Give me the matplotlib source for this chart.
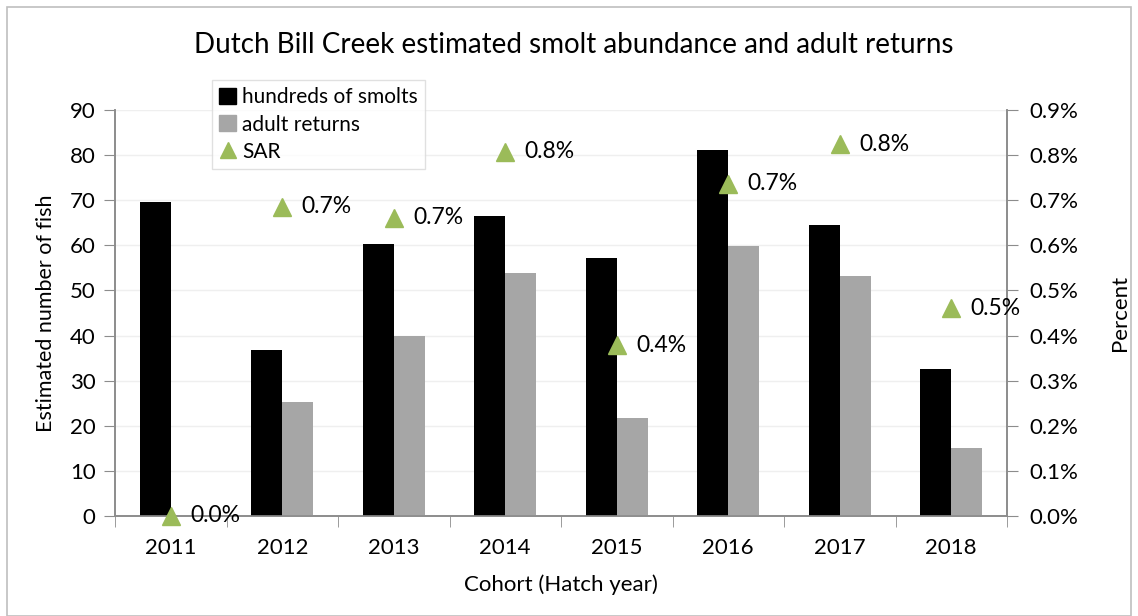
import matplotlib
matplotlib.use("Agg")
import matplotlib.pyplot as plt
import numpy as np
from matplotlib.lines import Line2D
from matplotlib.patches import Patch, Rectangle
from matplotlib.ticker import FuncFormatter, MultipleLocator

plt.rcParams['font.family'] = ['Lato', 'DejaVu Sans']

years = ["2011", "2012", "2013", "2014", "2015", "2016", "2017", "2018"]
smolts_hundreds = [69.7, 36.8, 60.3, 66.5, 57.3, 81.1, 64.5, 32.5]
adult_returns = [0.0, 25.3, 40.0, 53.9, 21.7, 59.9, 53.2, 15.0]
sar_percent = [0.0, 0.685, 0.661, 0.808, 0.378, 0.736, 0.824, 0.46]

fig = plt.figure(figsize=(11.38, 6.16), dpi=100)
ax = fig.add_axes([115/1138, 1-516/616, (1007-115)/1138, (516-110)/616])
ax2 = ax.twinx()

x = np.arange(len(years))
w = 0.28
ax.bar(x - w/2, smolts_hundreds, w, color='black', zorder=3)
ax.bar(x + w/2, adult_returns, w, color='#a6a6a6', zorder=3)

ax.set_xlim(-0.5, len(years) - 0.5)
ax.set_ylim(0, 90)
ax.yaxis.set_major_locator(MultipleLocator(10))
ax.grid(axis='y', color='#efefef', linewidth=1, zorder=0)
ax.set_axisbelow(True)

ax.set_xticks(x)
ax.set_xticklabels(years)
ax.set_xticks(np.arange(-0.5, len(years)), minor=True)
ax.tick_params(axis='x', which='major', length=0, pad=16, labelsize=16)
ax.tick_params(axis='x', which='minor', length=8, color='#8c8c8c', direction='out')
ax.tick_params(axis='y', length=8, color='#8c8c8c', direction='out', labelsize=16, pad=6)

for s in ['top']:
    ax.spines[s].set_visible(False)
    ax2.spines[s].set_visible(False)
for a in (ax, ax2):
    for s in ['left', 'right', 'bottom']:
        a.spines[s].set_color('#8c8c8c')
        a.spines[s].set_linewidth(1.2)

ax2.plot(x, sar_percent, linestyle='none', marker='^', markersize=13,
         color='#9bbb59', zorder=5, clip_on=False)
for xi, v in zip(x, sar_percent):
    ax2.annotate(f"{v:.1f}%", (xi, v), xytext=(14, 0), textcoords='offset points',
                 va='center', ha='left', fontsize=16.5, annotation_clip=False)
ax2.set_ylim(0, 0.9)
ax2.yaxis.set_major_locator(MultipleLocator(0.1))
ax2.yaxis.set_major_formatter(FuncFormatter(lambda v, p: f"{v:.1f}%"))
ax2.tick_params(axis='y', length=8, color='#8c8c8c', direction='out', labelsize=16, pad=8)

ax.set_ylabel("Estimated number of fish", fontsize=15.5, labelpad=10)
ax2.set_ylabel("Percent", fontsize=16, labelpad=23)
ax.set_xlabel("Cohort (Hatch year)", fontsize=16, labelpad=12)

fig.text(574/1138, 1-45/616, "Dutch Bill Creek estimated smolt abundance and adult returns",
         ha='center', va='center', fontsize=20)

handles = [Patch(facecolor='black', edgecolor='black'),
           Patch(facecolor='#a6a6a6', edgecolor='#a6a6a6'),
           Line2D([], [], linestyle='none', marker='^', markersize=12, color='#9bbb59')]
leg = fig.legend(handles, ["hundreds of smolts", "adult returns", "SAR"],
                 loc='upper left', bbox_to_anchor=(212/1138, 1-80/616),
                 fontsize=15, frameon=True, fancybox=False, edgecolor='#d9d9d9',
                 handlelength=0.8, handleheight=0.8, handletextpad=0.3,
                 borderpad=0.35, labelspacing=0.35, borderaxespad=0)
leg.get_frame().set_linewidth(1)
leg.set_zorder(10)

fig.patches.append(Rectangle((7/1138, 0), 1 - 14/1138, 1 - 7/616, transform=fig.transFigure,
                             fill=False, edgecolor='#bfbfbf', linewidth=1.2))

fig.savefig("out.png", dpi=100)
